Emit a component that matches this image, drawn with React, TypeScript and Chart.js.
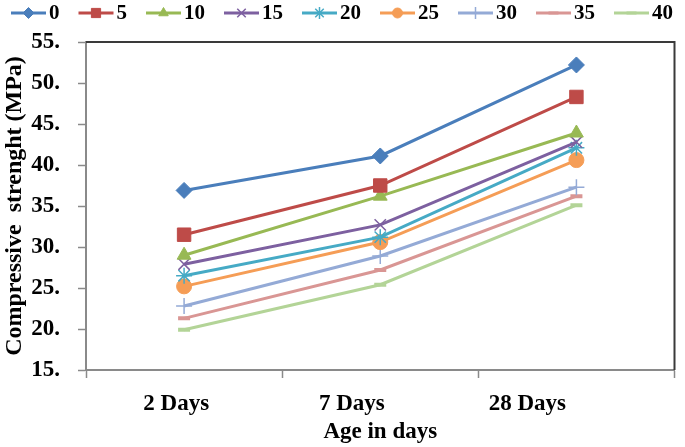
import React, { useEffect, useRef } from 'react';
import { Chart, registerables, PointElement } from 'chart.js';

Chart.register(...registerables);

// ---- data ----
const categories = ['2 Days', '7 Days', '28 Days'];
const seriesNames = ['0', '5', '10', '15', '20', '25', '30', '35', '40'];
const s0 = [36.9, 41.1, 52.2];
const s5 = [31.5, 37.5, 48.3];
const s10 = [29.0, 36.2, 43.9];
const s15 = [27.9, 32.7, 42.8];
const s20 = [26.5, 31.2, 42.1];
const s25 = [25.2, 30.6, 40.6];
const s30 = [22.8, 28.9, 37.3];
const s35 = [21.3, 27.2, 36.2];
const s40 = [19.9, 25.4, 35.1];
const yMin = 15;
const yMax = 55;
const yStep = 5;

// ---- styles ----
const seriesValues = [s0, s5, s10, s15, s20, s25, s30, s35, s40];
const colors = ['#4a7ebb', '#be4b48', '#98b954', '#7d60a0', '#46aac5', '#f59d56', '#94aad6', '#d99694', '#b3d497'];
const pointStyles = ['rectRot', 'rect', 'triangle', 'crossRot', 'star', 'circle', 'cross', 'line', 'line'];
const pointRadii = [8, 9.5, 8, 8, 8, 7.5, 8, 6, 6];
const pointBorders = [1, 1, 1, 1.5, 1.5, 1, 1.5, 4, 4];
const legendRadii = [5.5, 6.5, 5.5, 6, 6, 5, 6, 5, 5];
const FONT = '"Liberation Serif", "Times New Roman", serif';
// x-axis label anchor offsets (layout) and category boundary tick marks
const labelAnchors = [-0.04, 0.855, 1.75];
const boundaryMarks = [-0.5, 0.5, 1.5, 2.5];

const legendPlugin = {
  id: 'customLegend',
  afterDraw(chart: any) {
    const ctx = chart.ctx as CanvasRenderingContext2D;
    ctx.save();
    ctx.font = `bold 21px ${FONT}`;
    const dsets = chart.data.datasets;
    const lineLen = 35;
    const textGap = 3;
    const widths = dsets.map((d: any) => lineLen + textGap + ctx.measureText(d.label).width);
    const total = widths.reduce((a: number, b: number) => a + b, 0);
    const startX = 11;
    const endX = 673;
    const gap = (endX - startX - total) / (dsets.length - 1);
    const y = 13;
    let x = startX;
    dsets.forEach((d: any, i: number) => {
      ctx.strokeStyle = colors[i];
      ctx.lineWidth = 3;
      ctx.beginPath();
      ctx.moveTo(x, y);
      ctx.lineTo(x + lineLen, y);
      ctx.stroke();
      const p: any = new PointElement({});
      p.x = x + lineLen / 2;
      p.y = y;
      p.options = {
        pointStyle: pointStyles[i],
        rotation: 0,
        radius: legendRadii[i],
        borderWidth: pointBorders[i] === 4 ? 3 : pointBorders[i],
        backgroundColor: colors[i],
        borderColor: colors[i],
      };
      p.draw(ctx);
      ctx.fillStyle = '#000';
      ctx.textBaseline = 'middle';
      ctx.textAlign = 'left';
      ctx.fillText(d.label, x + lineLen + textGap, y + 1);
      x += widths[i] + gap;
    });
    ctx.restore();
  },
};

const framePlugin = {
  id: 'frame',
  afterDraw(chart: any) {
    const { ctx, chartArea } = chart;
    ctx.save();
    ctx.strokeStyle = '#3a3a3a';
    ctx.lineWidth = 2;
    ctx.beginPath();
    ctx.moveTo(chartArea.left, chartArea.top);
    ctx.lineTo(chartArea.right, chartArea.top);
    ctx.lineTo(chartArea.right, chartArea.bottom);
    ctx.stroke();
    ctx.restore();
  },
};

export default function App() {
  const ref = useRef<HTMLCanvasElement>(null);
  useEffect(() => {
    document.body.style.margin = '0';
    const chart = new Chart(ref.current!, {
      type: 'line',
      data: {
        datasets: seriesNames.map((name, i) => ({
          label: name,
          data: seriesValues[i].map((v, j) => ({ x: j, y: v })),
          borderColor: colors[i],
          backgroundColor: colors[i],
          borderWidth: 3,
          pointStyle: pointStyles[i] as any,
          pointRadius: pointRadii[i],
          pointBorderWidth: pointBorders[i],
          pointBackgroundColor: colors[i],
          pointBorderColor: colors[i],
          tension: 0,
        })),
      },
      options: {
        animation: false,
        responsive: false,
        devicePixelRatio: 1,
        layout: { padding: { top: 42, right: 3, left: 0, bottom: 0 } },
        plugins: {
          legend: { display: false },
          tooltip: { enabled: false },
        },
        scales: {
          x: {
            type: 'linear',
            min: -0.5,
            max: 2.5,
            afterBuildTicks: (scale: any) => {
              scale.ticks = [
                ...boundaryMarks.map((v) => ({ value: v })),
                ...labelAnchors.map((v) => ({ value: v })),
              ];
            },
            afterFit: (scale: any) => {
              scale.height = 77;
            },
            grid: {
              drawOnChartArea: false,
              tickLength: 8,
              tickWidth: 1.5,
              tickColor: (c: any) =>
                c.tick && boundaryMarks.includes(c.tick.value) ? '#8a8a8a' : 'rgba(0,0,0,0)',
            },
            border: { color: '#8a8a8a', width: 2 },
            ticks: {
              autoSkip: false,
              maxRotation: 0,
              padding: 12,
              color: '#000',
              font: { family: FONT, size: 23, weight: 'bold' },
              callback: (value: any) => {
                const k = labelAnchors.indexOf(Number(value));
                return k >= 0 ? categories[k] : '';
              },
            },
            title: {
              display: true,
              text: 'Age in days',
              color: '#000',
              font: { family: FONT, size: 23, weight: 'bold' },
              padding: { top: 0, bottom: 1 },
            },
          },
          y: {
            min: yMin,
            max: yMax,
            afterFit: (scale: any) => {
              scale.width = 86;
            },
            ticks: {
              stepSize: yStep,
              padding: 18,
              color: '#000',
              font: { family: FONT, size: 23, weight: 'bold' },
              callback: (v: any) => `${v}.`,
            },
            grid: {
              drawOnChartArea: false,
              tickLength: 8,
              tickWidth: 1.5,
              tickColor: '#8a8a8a',
            },
            border: { color: '#8a8a8a', width: 2 },
            title: {
              display: true,
              text: 'Compressive  strenght (MPa)',
              color: '#000',
              font: { family: FONT, size: 24, weight: 'bold' },
              padding: { top: 0, bottom: 0 },
            },
          },
        },
      },
      plugins: [legendPlugin, framePlugin],
    });
    return () => chart.destroy();
  }, []);
  return (
    <div style={{ width: 685, height: 447 }}>
      <canvas ref={ref} width={685} height={447} />
    </div>
  );
}
